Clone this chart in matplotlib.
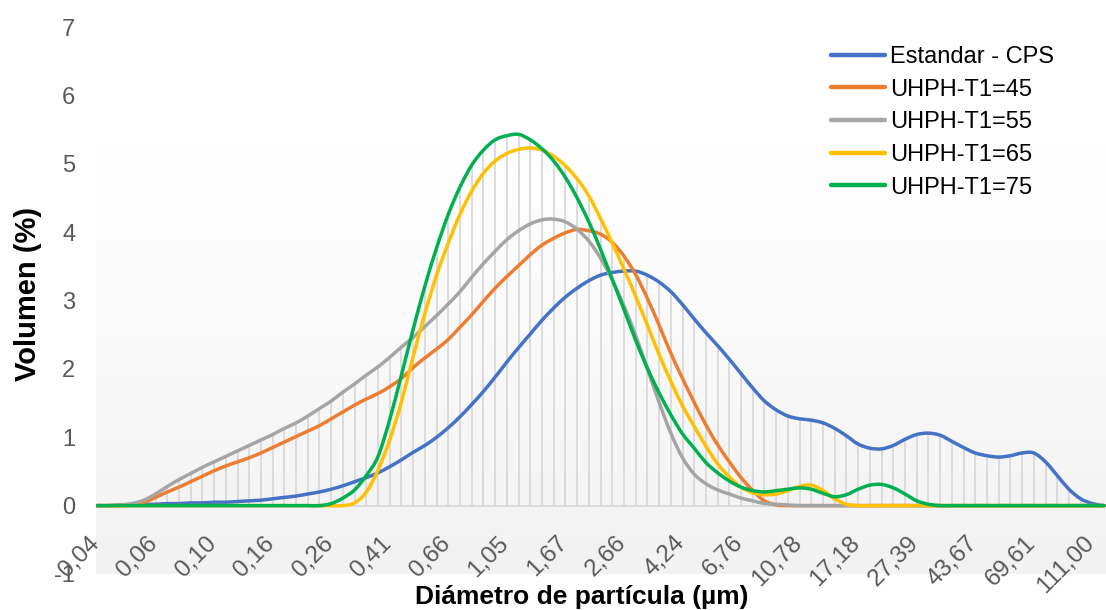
import numpy as np
import matplotlib.pyplot as plt
from matplotlib.path import Path
from matplotlib.patches import PathPatch
from matplotlib.lines import Line2D

plt.rcParams['font.family'] = ['Liberation Sans', 'DejaVu Sans']
plt.rcParams['axes.unicode_minus'] = False

# 87 size classes, one label every 5 classes
n_cat = 87
tick_step = 5
tick_labels = ['0,04', '0,06', '0,10', '0,16', '0,26', '0,41', '0,66', '1,05', '1,67',
               '2,66', '4,24', '6,76', '10,78', '17,18', '27,39', '43,67', '69,61', '111,00']

estandar = [0.00, 0.00, 0.01, 0.01, 0.02, 0.02, 0.03, 0.03, 0.04, 0.04,
            0.05, 0.05, 0.06, 0.07, 0.08, 0.10, 0.12, 0.14, 0.17, 0.20,
            0.24, 0.29, 0.35, 0.41, 0.48, 0.57, 0.67, 0.78, 0.88, 1.00,
            1.14, 1.30, 1.48, 1.67, 1.88, 2.10, 2.31, 2.51, 2.71, 2.89,
            3.05, 3.18, 3.29, 3.37, 3.41, 3.43, 3.43, 3.37, 3.27, 3.13,
            2.94, 2.73, 2.53, 2.34, 2.14, 1.93, 1.72, 1.53, 1.40, 1.31,
            1.27, 1.25, 1.21, 1.13, 1.02, 0.90, 0.84, 0.83, 0.88, 0.97,
            1.04, 1.06, 1.03, 0.94, 0.85, 0.77, 0.73, 0.71, 0.73, 0.77,
            0.77, 0.64, 0.44, 0.24, 0.10, 0.03, 0.00]

t45 = [0, 0, 0, 0.01, 0.05, 0.12, 0.20, 0.27, 0.35, 0.43,
       0.51, 0.58, 0.64, 0.70, 0.77, 0.85, 0.93, 1.01, 1.09, 1.17,
       1.27, 1.37, 1.47, 1.56, 1.64, 1.74, 1.86, 2.02, 2.16, 2.29,
       2.43, 2.61, 2.79, 2.99, 3.18, 3.35, 3.51, 3.67, 3.81, 3.91,
       3.99, 4.04, 4.02, 3.97, 3.85, 3.65, 3.38, 3.03, 2.64, 2.23,
       1.86, 1.51, 1.18, 0.89, 0.64, 0.41, 0.22, 0.07, 0.01, 0] + [0] * 27

t55 = [0, 0, 0.01, 0.03, 0.08, 0.17, 0.28, 0.38, 0.47, 0.56,
       0.64, 0.72, 0.80, 0.88, 0.96, 1.04, 1.13, 1.21, 1.31, 1.42,
       1.53, 1.66, 1.78, 1.91, 2.03, 2.17, 2.32, 2.46, 2.62, 2.78,
       2.95, 3.13, 3.34, 3.54, 3.72, 3.89, 4.02, 4.12, 4.18, 4.19,
       4.15, 4.04, 3.87, 3.62, 3.30, 2.92, 2.49, 2.00, 1.51, 1.06,
       0.70, 0.46, 0.32, 0.23, 0.17, 0.11, 0.07, 0.03, 0.02, 0.01] + [0] * 27

t65 = [0] * 22 + [0.04, 0.20, 0.52, 0.96, 1.52, 2.18, 2.81, 3.37,
       3.84, 4.26, 4.60, 4.86, 5.04, 5.15, 5.21, 5.23, 5.20, 5.11,
       4.97, 4.78, 4.53, 4.20, 3.84, 3.46, 3.06, 2.64, 2.21, 1.82,
       1.46, 1.16, 0.87, 0.61, 0.42, 0.27, 0.19, 0.16, 0.17, 0.22,
       0.28, 0.30, 0.22, 0.10, 0.02] + [0] * 22

t75 = [0] * 20 + [0.03, 0.11, 0.23, 0.44, 0.72, 1.26, 1.91, 2.58, 3.21, 3.77,
       4.26, 4.66, 4.98, 5.20, 5.35, 5.41, 5.43, 5.35, 5.22, 5.04,
       4.80, 4.50, 4.15, 3.75, 3.31, 2.87, 2.42, 2.01, 1.65, 1.33,
       1.05, 0.84, 0.63, 0.48, 0.36, 0.27, 0.22, 0.20, 0.22, 0.24,
       0.26, 0.24, 0.18, 0.13, 0.16, 0.24, 0.30, 0.31, 0.26, 0.17,
       0.07, 0.02] + [0] * 15

names = ['Estandar - CPS', 'UHPH-T1=45', 'UHPH-T1=55', 'UHPH-T1=65', 'UHPH-T1=75']
series = [estandar, t45, t55, t65, t75]
colors = ['#4472C4', '#ED7D31', '#A5A5A5', '#FFC000', '#00B050']


def smooth_path(xs, ys):
    # excel-like smoothed line: catmull-rom turned into cubic beziers
    pts = np.column_stack([xs, ys]).astype(float)
    ext = np.vstack([pts[0], pts, pts[-1]])
    verts = [pts[0]]
    codes = [Path.MOVETO]
    for k in range(len(pts) - 1):
        p0, p1, p2, p3 = ext[k], ext[k + 1], ext[k + 2], ext[k + 3]
        verts += [p1 + (p2 - p0) / 6, p2 - (p3 - p1) / 6, p2]
        codes += [Path.CURVE4] * 3
    return Path(verts, codes)


fig = plt.figure(figsize=(11.06, 6.10), dpi=100)
ax = fig.add_axes([96 / 1106, 36 / 610, 1010 / 1106, 547 / 610])

x = np.arange(n_cat)
dx = 11.71
xmin, xmax = -1 / dx, (1106 - 97) / dx
ax.set_xlim(xmin, xmax)
ax.set_ylim(-1, 7)

# plot area gradient: white at the top, light grey at the bottom
yy = np.linspace(-1, 7, 300)
shade = np.clip(242 + (yy + 1) / 6.3 * 13, 242, 255) / 255
grad = np.repeat(shade[:, None], 3, axis=1)[:, None, :]
ax.imshow(grad, extent=(xmin, xmax, -1, 7), aspect='auto', origin='lower', zorder=0)

# drop lines
top = np.max(np.array(series), axis=0)
ax.vlines(x, 0, top, color='#D9D9D9', lw=1.3, zorder=1)
ax.axhline(0, color='#D9D9D9', lw=1.3, zorder=1)

handles = []
for vals, c, name in zip(series, colors, names):
    ax.add_patch(PathPatch(smooth_path(x, vals), fill=False, edgecolor=c, lw=2.5,
                           capstyle='round', joinstyle='round', zorder=3))
    handles.append(Line2D([0], [0], color=c, lw=3.2, solid_capstyle='round'))

for s in ax.spines.values():
    s.set_visible(False)
ax.set_xticks([])
ax.set_yticks(range(-1, 8))
ax.tick_params(axis='y', length=0, pad=15, labelsize=17, labelcolor='#595959')

for k, lbl in enumerate(tick_labels):
    ax.annotate(lbl, xy=(k * tick_step, 0), xytext=(-6.5, -19), textcoords='offset points',
                rotation=45, ha='right', va='top', rotation_mode='anchor',
                fontsize=17.5, color='#595959', annotation_clip=False)

fig.text(582 / 1106, 1 - 597 / 610, 'Diámetro de partícula (µm)', ha='center', va='center',
         fontsize=19, fontweight='bold', color='black')
fig.text(28 / 1106, 1 - 294 / 610, 'Volumen (%)', ha='center', va='center', rotation=90,
         fontsize=21, fontweight='bold', color='black')

ax.legend(handles, names, loc='upper left', bbox_to_anchor=(831 / 1106, 1 - 46 / 610),
          bbox_transform=fig.transFigure, frameon=False, fontsize=17,
          handlelength=2.3, handletextpad=0.2, labelspacing=0.45, borderpad=0,
          borderaxespad=0, labelcolor='black')

fig.savefig('out.png', dpi=100)
